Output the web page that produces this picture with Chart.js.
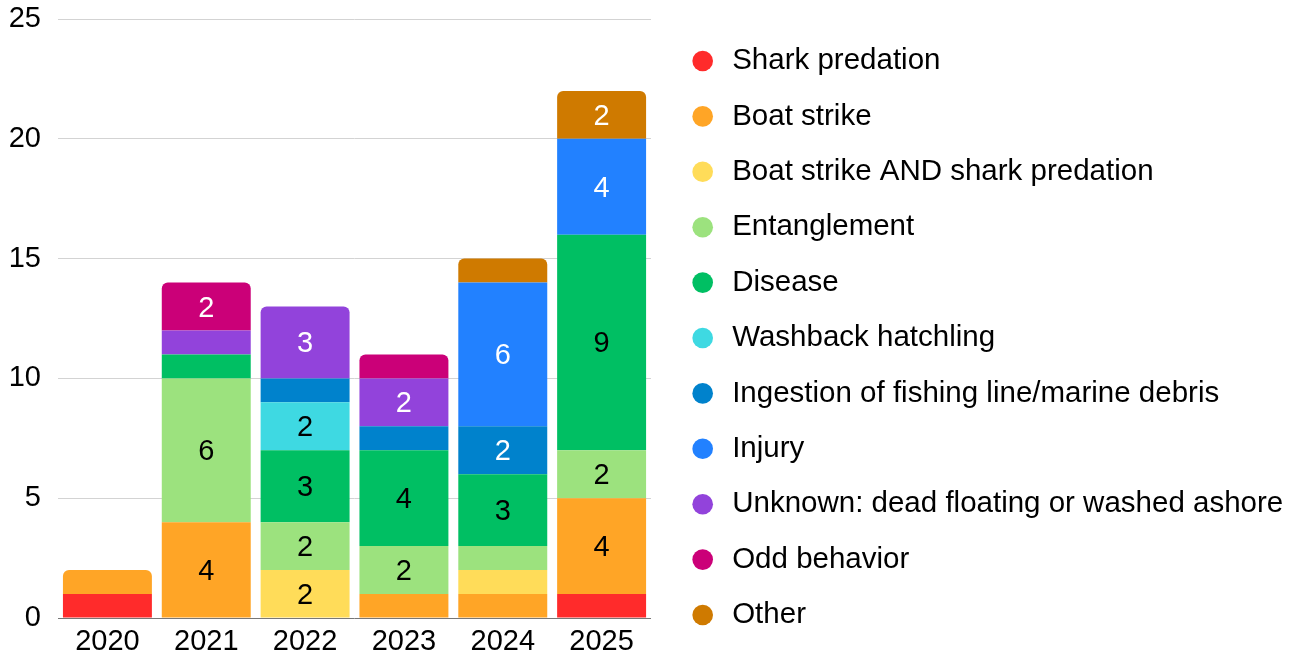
<!DOCTYPE html>
<html>
<head>
<meta charset="utf-8">
<script src="https://cdn.jsdelivr.net/npm/chart.js@4.4.1/dist/chart.umd.min.js"></script>
<style>
  html, body { margin: 0; padding: 0; background: #fff; }
  #wrap { width: 1298px; height: 657px; }
</style>
</head>
<body>
<div id="wrap"><canvas id="chart"></canvas></div>
<script>
const years = ['2020', '2021', '2022', '2023', '2024', '2025'];

const sharkPredation = [1, null, null, null, null, 1];
const boatStrike = [1, 4, null, 1, 1, 4];
const boatAndShark = [null, null, 2, null, 1, null];
const entanglement = [null, 6, 2, 2, 1, 2];
const disease = [null, 1, 3, 4, 3, 9];
const washback = [null, null, 2, null, null, null];
const ingestion = [null, null, 1, 1, 2, null];
const injury = [null, null, null, null, 6, 4];
const unknownFloating = [null, 1, 3, 2, null, null];
const oddBehavior = [null, 2, null, 1, null, null];
const other = [null, null, null, null, 1, 2];

const yTicks = [0, 5, 10, 15, 20, 25];

const series = [
    { label: 'Shark predation', data: sharkPredation, color: '#ff2b2b', text: '#000' },
    { label: 'Boat strike', data: boatStrike, color: '#ffa526', text: '#000' },
    { label: 'Boat strike AND shark predation', data: boatAndShark, color: '#ffdc59', text: '#000' },
    { label: 'Entanglement', data: entanglement, color: '#9ce27e', text: '#000' },
    { label: 'Disease', data: disease, color: '#00bf63', text: '#000' },
    { label: 'Washback hatchling', data: washback, color: '#3ed9e2', text: '#000' },
    { label: 'Ingestion of fishing line/marine debris', data: ingestion, color: '#0082cc', text: '#fff' },
    { label: 'Injury', data: injury, color: '#2281ff', text: '#fff' },
    { label: 'Unknown: dead floating or washed ashore', data: unknownFloating, color: '#9243db', text: '#fff' },
    { label: 'Odd behavior', data: oddBehavior, color: '#cb0078', text: '#fff' },
    { label: 'Other', data: other, color: '#cf7a00', text: '#fff' }
];

const fontFamily = '"Liberation Sans", Arial, sans-serif';

// numbers inside the segments (only the ones with 2 or more)
const segmentLabels = {
    id: 'segmentLabels',
    afterDatasetsDraw(chart) {
        const ctx = chart.ctx;
        ctx.save();
        ctx.font = '29px ' + fontFamily;
        ctx.textAlign = 'center';
        ctx.textBaseline = 'middle';
        chart.data.datasets.forEach((ds, i) => {
            const meta = chart.getDatasetMeta(i);
            meta.data.forEach((bar, j) => {
                const v = ds.data[j];
                if (v == null || v < 2) return;
                ctx.fillStyle = series[i].text;
                ctx.fillText(String(v), bar.x, (bar.y + bar.base) / 2 + 2);
            });
        });
        ctx.restore();
    }
};

const ctx = document.getElementById('chart').getContext('2d');
new Chart(ctx, {
    type: 'bar',
    data: {
        labels: years,
        datasets: series.map(s => ({
            label: s.label,
            data: s.data,
            backgroundColor: s.color,
            borderWidth: 0,
            borderRadius: 6,
            categoryPercentage: 1,
            barPercentage: 0.9
        }))
    },
    options: {
        responsive: true,
        maintainAspectRatio: false,
        animation: false,
        layout: { padding: { left: 8.75, top: 19, right: 4.8, bottom: 0 } },
        plugins: {
            tooltip: { enabled: false },
            legend: {
                position: 'right',
                maxWidth: 700,
                labels: {
                    usePointStyle: true,
                    pointStyle: 'circle',
                    boxWidth: 29.5,
                    boxHeight: 14.6,
                    padding: 25.9,
                    color: '#000',
                    font: { size: 29.5, family: fontFamily }
                }
            }
        },
        scales: {
            x: {
                stacked: true,
                grid: { display: false, drawTicks: false },
                border: { display: false },
                ticks: {
                    color: '#000',
                    padding: 7,
                    font: { size: 29, family: fontFamily }
                },
                // fixed height: the library counts the tick padding twice
                afterFit: s => { s.height = 39; s.paddingLeft = 0; s.paddingRight = 0; }
            },
            y: {
                stacked: true,
                min: yTicks[0],
                max: yTicks[yTicks.length - 1],
                afterBuildTicks: s => { s.ticks = yTicks.map(v => ({ value: v })); },
                grid: {
                    drawTicks: false,
                    color: c => c.tick && c.tick.value === 0 ? '#777' : '#d3d3d3'
                },
                border: { display: false },
                ticks: {
                    color: '#000',
                    padding: 17,
                    font: { size: 29, family: fontFamily }
                },
                afterFit: s => { s.width = 49.25; s.paddingTop = 0; s.paddingBottom = 0; }
            },
            gap: {
                type: 'linear',
                axis: 'y',
                position: 'right',
                grid: { display: false, drawTicks: false },
                border: { display: false },
                ticks: { display: false },
                afterFit: s => { s.width = 11; }
            }
        }
    },
    plugins: [segmentLabels]
});
</script>
</body>
</html>
